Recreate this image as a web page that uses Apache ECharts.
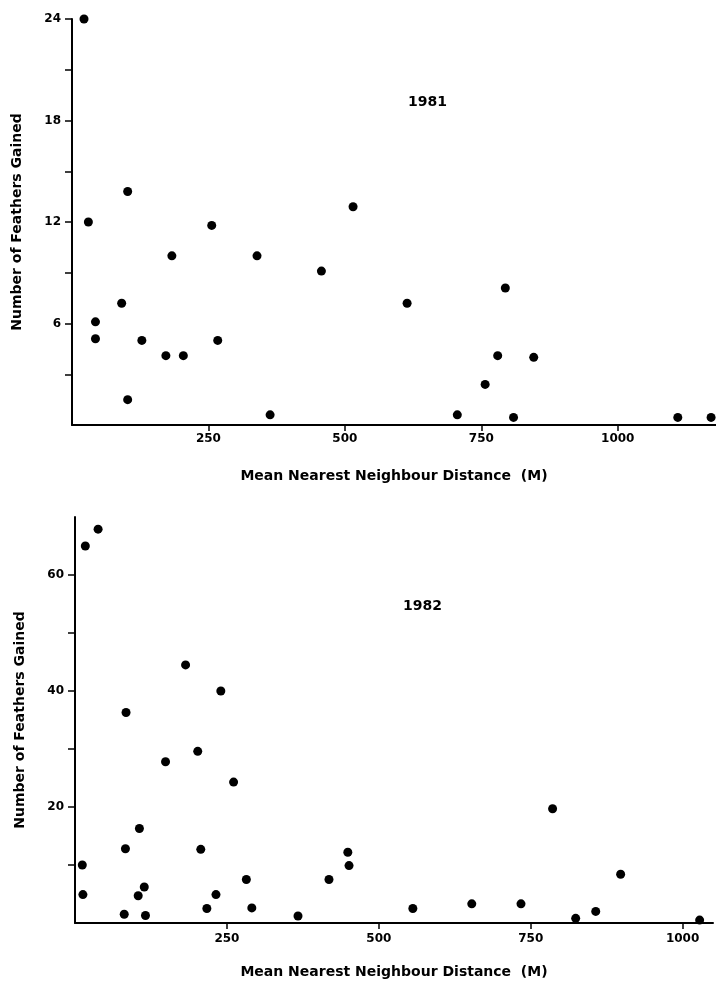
<!DOCTYPE html>
<html>
<head>
<meta charset="utf-8">
<script src="https://cdn.jsdelivr.net/npm/echarts@6/dist/echarts.min.js"></script>
<style>
html,body{margin:0;padding:0;background:#fff;}
#chart{width:716px;height:983px;}
</style>
</head>
<body>
<div id="chart"></div>
<script>
// 1981 panel
var x1981 = [22, 30, 102, 256, 515, 183, 339, 457, 91, 43, 43, 128, 172, 204, 267, 102, 363, 614, 794, 780, 846, 757, 706, 809, 1110, 1171];
var y1981 = [24, 12, 13.8, 11.8, 12.9, 10, 10, 9.1, 7.2, 6.1, 5.1, 5, 4.1, 4.1, 5, 1.5, 0.6, 7.2, 8.1, 4.1, 4, 2.4, 0.6, 0.45, 0.45, 0.45];
// 1982 panel
var x1982 = [17, 38, 182, 240, 84, 202, 149, 261, 106, 83, 207, 12, 13, 104, 114, 81, 116, 217, 232, 282, 291, 367, 418, 449, 451, 786, 898, 556, 653, 734, 824, 857, 1028];
var y1982 = [65, 67.9, 44.5, 40, 36.3, 29.6, 27.8, 24.3, 16.3, 12.8, 12.7, 10, 4.9, 4.7, 6.2, 1.5, 1.3, 2.5, 4.9, 7.5, 2.6, 1.2, 7.5, 12.2, 9.9, 19.7, 8.4, 2.5, 3.3, 3.3, 0.8, 2.0, 0.5];
// ticks and labels
var xTicks = [250, 500, 750, 1000];
var yTicks1981 = [3, 6, 9, 12, 15, 18, 21, 24];
var yLabels1981 = [6, 12, 18, 24];
var yTicks1982 = [10, 20, 30, 40, 50, 60];
var yLabels1982 = [20, 40, 60];
var xName = 'Mean Nearest Neighbour Distance  (M)';
var yName = 'Number of Feathers Gained';
var years = ['1981', '1982'];

var FONT = 'DejaVu Sans';
function pairs(xs, ys){ return xs.map(function(x,i){ return [x, ys[i]]; }); }
function plain(v){ return String(v); }

var axisLineStyle = {show:true, lineStyle:{color:'#000', width:2}};
function xAxisDef(idx, max, gap, margin){
  return {
    type:'value', gridIndex:idx, min:0, max:max,
    name:xName, nameLocation:'middle', nameGap:gap,
    nameTextStyle:{fontFamily:FONT, fontWeight:'bold', fontSize:14, color:'#000'},
    axisLine:axisLineStyle,
    axisTick:{show:true, length:6, lineStyle:{color:'#000', width:1.5}, customValues:xTicks},
    axisLabel:{show:true, margin:margin, fontFamily:FONT, fontWeight:'bold', fontSize:12, color:'#000', customValues:xTicks, formatter:plain},
    splitLine:{show:false}
  };
}
function yAxisDef(idx, max, ticks, labels){
  return {
    type:'value', gridIndex:idx, min:0, max:max,
    name:yName, nameLocation:'middle', nameGap:48,
    nameTextStyle:{fontFamily:FONT, fontWeight:'bold', fontSize:14, color:'#000'},
    axisLine:axisLineStyle,
    axisTick:{show:true, length:7, lineStyle:{color:'#000', width:1.5}, customValues:ticks},
    axisLabel:{show:true, margin:11, fontFamily:FONT, fontWeight:'bold', fontSize:12, color:'#000', customValues:labels, formatter:plain},
    splitLine:{show:false}
  };
}

var chart = echarts.init(document.getElementById('chart'), null, {renderer:'canvas'});
chart.setOption({
  backgroundColor:'#fff',
  animation:false,
  title:[
    {text:years[0], left:408, top:95, padding:0, textStyle:{fontFamily:FONT, fontWeight:'bold', fontSize:14, color:'#000'}},
    {text:years[1], left:403, top:599, padding:0, textStyle:{fontFamily:FONT, fontWeight:'bold', fontSize:14, color:'#000'}}
  ],
  grid:[
    {left:72, top:19, width:644, height:406, containLabel:false},
    {left:75, top:517, width:638, height:406, containLabel:false}
  ],
  xAxis:[ xAxisDef(0, 1180, 44, 8), xAxisDef(1, 1050, 42, 10) ],
  yAxis:[ yAxisDef(0, 24, yTicks1981, yLabels1981), yAxisDef(1, 70, yTicks1982, yLabels1982) ],
  series:[
    {type:'scatter', xAxisIndex:0, yAxisIndex:0, data:pairs(x1981, y1981), symbol:'circle', symbolSize:9, itemStyle:{color:'#000', opacity:1}, clip:false},
    {type:'scatter', xAxisIndex:1, yAxisIndex:1, data:pairs(x1982, y1982), symbol:'circle', symbolSize:9, itemStyle:{color:'#000', opacity:1}, clip:false}
  ]
});
</script>
</body>
</html>
